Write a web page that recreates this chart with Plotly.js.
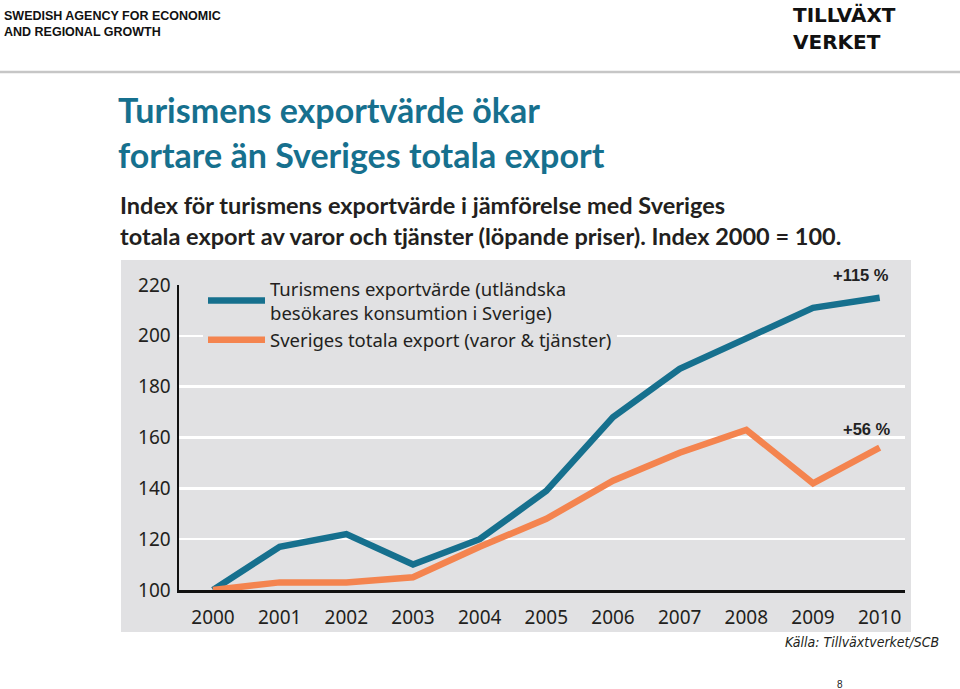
<!DOCTYPE html>
<html>
<head>
<meta charset="utf-8">
<script src="https://cdn.plot.ly/plotly-3.0.1.min.js"></script>
<style>
html,body{margin:0;padding:0;background:#fff;}
#chart{width:960px;height:689px;}
</style>
</head>
<body>
<div id="chart"></div>
<script>
// ---- data ----
const years = [2000, 2001, 2002, 2003, 2004, 2005, 2006, 2007, 2008, 2009, 2010];
const tourismIndex = [100, 117, 122, 110, 120, 139, 168, 187, 199, 211, 215];
const exportIndex = [100, 103, 103, 105, 117, 128, 143, 154, 163, 142, 156];
const seriesNames = [
  "Turismens exportvärde (utländska<br>besökares konsumtion i Sverige)",
  "Sveriges totala export (varor & tjänster)"
];
const yTicks = [100, 120, 140, 160, 180, 200, 220];
const growthLabels = ["+115 %", "+56 %"];

// ---- layout helpers (pixel -> paper) ----
const W = 960, H = 689;
const L = 179, R = 905, T = 285, B = 590;
const px = x => (x - L) / (R - L);
const py = y => (B - y) / (B - T);

const blue = "#16708e";
const orange = "#f4844f";
const panel = "#e1e1e3";
const ink = "#231f20";
const myriad = "Noto Sans, Open Sans, sans-serif";
const logoFont = "DejaVu Sans, sans-serif";

const traces = [
  {x: years, y: tourismIndex, name: seriesNames[0], type: "scatter", mode: "lines",
   line: {color: blue, width: 6.5}},
  {x: years, y: exportIndex, name: seriesNames[1], type: "scatter", mode: "lines",
   line: {color: orange, width: 6.5}}
];

function ann(text, x, y, o) {
  return Object.assign({text: text, xref: "paper", yref: "paper", x: px(x), y: py(y),
    showarrow: false, xanchor: "left", yanchor: "middle"}, o || {});
}

const annotations = [
  ann("<b>SWEDISH AGENCY FOR ECONOMIC<br>AND REGIONAL GROWTH</b>", 2, 24,
      {font: {family: "Liberation Sans, Arial", size: 12.5, color: "#111"}, align: "left"}),
  ann("<b>TILLVÄXT</b>", 791, 15, {font: {family: logoFont, size: 20, color: "#111"}}),
  ann("<b>VERKET</b>", 791, 42, {font: {family: logoFont, size: 20, color: "#111"}}),
  ann("<b>Turismens exportvärde ökar</b>", 116, 109,
      {font: {family: "Lato, sans-serif", size: 34, color: blue}}),
  ann("<b>fortare än Sveriges totala export</b>", 116, 154,
      {font: {family: "Lato, sans-serif", size: 34, color: blue}}),
  ann("<b>Index för turismens exportvärde i jämförelse med Sveriges<br>totala export av varor och tjänster (löpande priser). Index 2000 = 100.</b>", 118, 220,
      {font: {family: "Lato, sans-serif", size: 23.5, color: ink}, align: "left"}),
  ann("<b>" + growthLabels[0] + "</b>", 891, 275,
      {xanchor: "right", font: {family: "Liberation Sans, Arial", size: 16.5, color: "#222"}}),
  ann("<b>" + growthLabels[1] + "</b>", 893, 429,
      {xanchor: "right", font: {family: "Liberation Sans, Arial", size: 16.5, color: "#222"}}),
  ann("<i>Källa: Tillväxtverket/SCB</i>", 941, 642,
      {xanchor: "right", font: {family: "DejaVu Sans Condensed, Noto Sans, sans-serif", size: 14, color: ink}}),
  ann("8", 840, 684, {xanchor: "center", font: {family: "Liberation Sans, Arial", size: 10, color: "#222"}})
];

const shapes = [
  {type: "rect", xref: "paper", yref: "paper", x0: px(121), x1: px(911), y0: py(632), y1: py(260),
   fillcolor: panel, line: {width: 0}, layer: "below"},
  {type: "line", xref: "paper", yref: "paper", x0: px(0), x1: px(960), y0: py(72), y1: py(72),
   line: {color: "#c6c6c6", width: 2.5}}
];

const layout = {
  width: W, height: H,
  margin: {l: L, r: W - R, t: T, b: H - B, pad: 0},
  paper_bgcolor: "#ffffff",
  plot_bgcolor: panel,
  showlegend: true,
  legend: {x: px(203), y: py(270), xanchor: "left", yanchor: "top",
    bgcolor: panel, borderwidth: 0, tracegroupgap: 6, itemwidth: 57,
    font: {family: myriad, size: 18.5, color: ink}},
  xaxis: {range: [1999.49, 2010.38], tickmode: "array", tickvals: years,
    showgrid: false, zeroline: false, showline: true, linecolor: "#111", linewidth: 3,
    ticks: "", ticklabelstandoff: 8,
    tickfont: {family: myriad, size: 19, color: ink}, fixedrange: true},
  yaxis: {range: [100, 220], tickmode: "array", tickvals: yTicks,
    showgrid: true, gridcolor: "#ffffff", gridwidth: 2.5, zeroline: false,
    showline: true, linecolor: "#111", linewidth: 2.5, ticks: "", ticklabelstandoff: 2,
    tickfont: {family: myriad, size: 19, color: ink}, fixedrange: true},
  annotations: annotations,
  shapes: shapes
};

Plotly.newPlot("chart", traces, layout, {displayModeBar: false, staticPlot: true});
</script>
</body>
</html>
